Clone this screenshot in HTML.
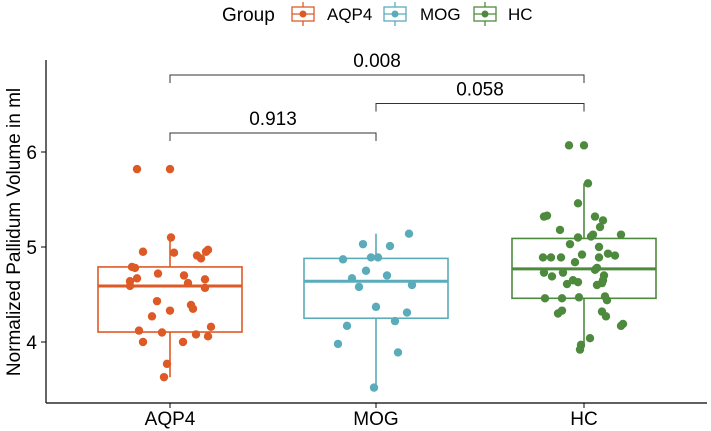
<!DOCTYPE html>
<html><head><meta charset="utf-8"><style>
body{margin:0;background:#fff}
svg{display:block;font-family:"Liberation Sans",Arial,sans-serif}
</style></head><body>
<svg id="chart" width="711" height="431" viewBox="0 0 711 431">
<g id="legend"></g>
<g id="plot"></g>
</svg>
<script>
const categories=["AQP4","MOG","HC"];
const colors=["#dd5a26","#5aacbb","#4e8a3e"];
const q1=[4.105,4.25,4.46];
const medians=[4.59,4.64,4.77];
const q3=[4.79,4.88,5.09];
const whiskLow=[3.63,3.52,3.94];
const whiskHigh=[5.10,5.14,5.67];
const yTicks=[4,5,6];
const ptsAQP4=[[137,5.82],[170,5.82],[171,5.10],[143,4.95],[174,4.94],[197,4.91],[201,4.88],[208,4.97],[206,4.95],[132,4.79],[135,4.78],[137,4.67],[130,4.64],[130,4.59],[158,4.72],[184,4.70],[188,4.62],[205,4.66],[205,4.57],[157,4.43],[191,4.39],[193,4.35],[170,4.33],[152,4.27],[139,4.12],[162,4.10],[211,4.16],[196,4.08],[208,4.06],[143,4.00],[183,4.00],[167,3.77],[164,3.63]];
const ptsMOG=[[343,4.87],[352,4.67],[359,4.58],[347,4.17],[338,3.98],[363,5.03],[390,5.01],[409,5.14],[371,4.89],[378,4.89],[366,4.75],[387,4.70],[412,4.60],[376,4.37],[407,4.31],[395,4.22],[398,3.89],[374,3.52]];
const ptsHC=[[569,6.07],[584,6.07],[588,5.67],[578,5.46],[544,5.32],[547,5.33],[560,5.18],[595,5.32],[603,5.28],[600,5.21],[593,5.13],[591,5.11],[578,5.10],[621,5.13],[570,5.03],[599,5.00],[543,4.89],[551,4.89],[561,4.89],[582,4.92],[599,4.89],[608,4.93],[615,4.91],[575,4.84],[597,4.78],[595,4.76],[544,4.73],[552,4.69],[563,4.73],[604,4.70],[603,4.65],[573,4.65],[578,4.63],[567,4.61],[597,4.60],[602,4.62],[545,4.46],[562,4.46],[579,4.47],[605,4.48],[607,4.44],[558,4.30],[562,4.33],[602,4.32],[606,4.27],[621,4.17],[623,4.19],[590,4.04],[581,3.97],[580,3.92]];
const points=[ptsAQP4,ptsMOG,ptsHC];
const pLabels=["0.913","0.058","0.008"];
const pPairs=[[0,1],[1,2],[0,2]];
const pLevels=[6.20,6.51,6.81];

const NS="http://www.w3.org/2000/svg";
const xPos=[170,376,584];
const x=i=>xPos[i];
const y=v=>247-(v-5)*95;
const plot=document.getElementById('plot');
function mk(tag,attrs,parent){const e=document.createElementNS(NS,tag);for(const k in attrs)e.setAttribute(k,attrs[k]);parent.appendChild(e);return e;}

let ax=mk('line',{x1:46,y1:60,x2:46,y2:403,stroke:'#000','stroke-width':1.2},plot);


ax=mk('line',{x1:46,y1:403,x2:707,y2:403,stroke:'#000','stroke-width':1.2},plot);


yTicks.forEach(t=>{
  const l=mk('line',{x1:41,x2:46,y1:y(t),y2:y(t),stroke:'#000'},plot);
  
  
  const tx=mk('text',{x:37,y:y(t)+7,'text-anchor':'end','font-size':19,fill:'#000'},plot);
  tx.textContent=t;
  
  
});
const yt=mk('text',{x:0,y:0,transform:'translate(20,232) rotate(-90)','text-anchor':'middle','font-size':19,fill:'#000'},plot);
yt.textContent='Normalized Pallidum Volume in ml';



categories.forEach((c,i)=>{
  const cx=x(i),col=colors[i];
  const l=mk('line',{x1:cx,x2:cx,y1:403,y2:408,stroke:'#000'},plot);
  
  
  const tx=mk('text',{x:cx,y:425,'text-anchor':'middle','font-size':19,fill:'#000'},plot);
  tx.textContent=c;
  
  
  const g=mk('g',{},plot);
  
  
  mk('line',{x1:cx,x2:cx,y1:y(whiskHigh[i]),y2:y(q3[i]),stroke:col,'stroke-width':1.6},g);
  mk('line',{x1:cx,x2:cx,y1:y(q1[i]),y2:y(whiskLow[i]),stroke:col,'stroke-width':1.6},g);
  mk('rect',{x:cx-72,y:y(q3[i]),width:144,height:y(q1[i])-y(q3[i]),fill:'none',stroke:col,'stroke-width':1.6},g);
  mk('line',{x1:cx-72,x2:cx+72,y1:y(medians[i]),y2:y(medians[i]),stroke:col,'stroke-width':3},g);
  points[i].forEach(p=>{
    const d=mk('circle',{cx:p[0],cy:y(p[1]),r:4.2,fill:col},g);
    
    
  });
});

pPairs.forEach((pr,k)=>{
  const yy=y(pLevels[k]);
  const g=mk('g',{},plot);
  
  
  mk('path',{d:`M${x(pr[0])},${yy+8}V${yy}H${x(pr[1])}V${yy+8}`,fill:'none',stroke:'#333','stroke-width':1},g);
  const t=mk('text',{x:(x(pr[0])+x(pr[1]))/2,y:yy-8,'text-anchor':'middle','font-size':19,fill:'#000'},g);
  t.textContent=pLabels[k];
});

const lg=document.getElementById('legend');
const gt=mk('text',{x:222,y:21,'font-size':19,fill:'#000'},lg);
gt.textContent='Group';


const keyX=[303,395,485],txtX=[327,420,508];
categories.forEach((c,i)=>{
  const g=mk('g',{},lg);
  
  
  const k=keyX[i],col=colors[i];
  mk('line',{x1:k,x2:k,y1:2,y2:26,stroke:col,'stroke-width':1.3},g);
  mk('rect',{x:k-11,y:7,width:22,height:14,fill:'#fff',stroke:col,'stroke-width':1.3},g);
  mk('line',{x1:k-11,x2:k+11,y1:14,y2:14,stroke:col,'stroke-width':1.3},g);
  mk('circle',{cx:k,cy:14,r:3.5,fill:col},g);
  const t=mk('text',{x:txtX[i],y:20,'font-size':17,fill:'#000'},g);
  t.textContent=c;
});
</script>
</body></html>
